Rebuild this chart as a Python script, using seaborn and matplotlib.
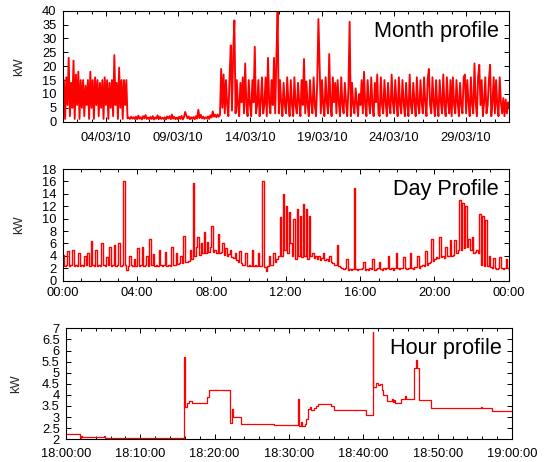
import numpy as np
import pandas as pd
import matplotlib
matplotlib.use("Agg")
import matplotlib.pyplot as plt
import matplotlib.dates as mdates
from matplotlib.ticker import MultipleLocator, FormatStrFormatter
import seaborn as sns

sns.set_style("ticks")
plt.rcParams["font.family"] = ["Liberation Sans", "DejaVu Sans"]

# ---------------- data ----------------
panel_titles = ["Month profile", "Day Profile", "Hour profile"]
y_label = "kW"

# Month profile: 2-hour samples, one row per day (01/03/10 .. 31/03/10)
month_start = "2010-03-01 00:00"
month_step = "2h"
month_kw_by_day = [
    [4, 15, 1, 16, 6, 23, 2, 14, 5, 22, 1, 17],
    [6, 18, 1, 15, 5, 15, 2, 13, 6, 15, 1, 18],
    [5, 15, 1, 16, 6, 15, 2, 14, 5, 15, 1, 16],
    [6, 15, 1, 14, 5, 15, 2, 24, 6, 14, 1, 19.5],
    [5, 15, 1, 15, 6, 15, 1.2, 1.5, 1.0, 1.8, 1.1, 1.6],
    [1.0, 1.8, 0.9, 2.2, 1.1, 1.6, 0.8, 2.0, 1.2, 2.4, 1.0, 1.5],
    [0.9, 1.7, 1.0, 2.0, 0.8, 1.5, 1.1, 2.3, 0.9, 1.8, 1.0, 1.4],
    [1.0, 1.6, 0.8, 1.9, 1.2, 2.0, 0.9, 2.6, 1.1, 1.7, 0.9, 1.5],
    [0.9, 1.8, 1.0, 2.1, 0.8, 1.6, 3.5, 2.2, 1.2, 1.9, 0.9, 1.6],
    [1.0, 1.7, 0.9, 2.0, 1.1, 4.3, 1.3, 2.5, 1.2, 1.8, 1.0, 1.6],
    [1.2, 1.9, 1.0, 2.3, 1.5, 3.7, 1.8, 2.5, 1.6, 2.6, 1.8, 2.4],
    [19, 5, 17, 3, 15, 6, 2, 16, 27.5, 4, 24.5, 36.5],
    [3, 15, 6, 2, 14, 7, 16, 3, 21, 6, 2, 15],
    [6, 2, 15, 7, 27, 3, 6, 15, 2, 7, 16, 3],
    [6, 16, 2, 23, 7, 3, 15, 6, 23, 3, 22.8, 39.5],
    [3, 15, 7, 2, 14, 6, 3, 16, 7, 2, 15, 6],
    [2, 16, 6, 3, 14, 7, 2, 15, 6, 22.6, 3, 14.5],
    [6, 2, 15, 7, 3, 16, 6, 2, 14, 37, 20, 3],
    [15, 6, 2, 16, 7, 3, 24.4, 6, 2, 16, 7, 14],
    [3, 15, 7, 2, 16, 6, 3, 14, 7, 2, 12, 36],
    [2, 14, 6, 3, 12, 7, 2, 10, 6, 15, 3, 18],
    [6, 2, 15, 7, 3, 16, 6, 2, 14, 7, 17, 3],
    [2, 16, 6, 3, 15, 7, 2, 14, 6, 3, 17, 7],
    [3, 15, 7, 2, 16, 6, 3, 15, 7, 2, 14, 6],
    [2, 17, 6, 3, 14, 7, 2, 16, 6, 3, 15, 7],
    [3, 16, 7, 2, 15, 19, 6, 3, 16, 7, 2, 15],
    [6, 2, 15, 7, 3, 17, 6, 2, 16, 7, 3, 15],
    [2, 16, 6, 3, 15, 7, 2, 14, 6, 3, 16, 17],
    [3, 15, 7, 2, 16, 6, 3, 21, 7, 2, 16, 20.5],
    [6, 15, 2, 7, 16, 3, 6, 15, 20.5, 2, 7, 16],
    [3, 15, 6, 2, 16, 7, 3, 8.5, 2, 8, 3, 7],
]
month_last_kw = 5.0
month_xlim = ["2010-03-01 00:00", "2010-04-01 00:00"]

# Day profile: 5-minute samples, one row per hour
day_start = "2010-03-20 00:00"
day_step = "5min"
day_kw_by_hour = [
    [4.2, 2.4, 2.5, 4.8, 2.4, 2.5, 5.0, 2.4, 2.5, 2.4, 4.5, 2.4],
    [2.5, 2.4, 4.0, 2.5, 4.5, 2.4, 6.4, 2.5, 2.4, 5.0, 2.4, 2.5],
    [2.4, 6.0, 2.5, 2.4, 3.8, 2.5, 5.5, 2.4, 2.5, 5.7, 2.4, 2.5],
    [6.0, 2.4, 2.5, 16.0, 2.6, 1.8, 2.4, 4.0, 2.5, 2.4, 3.5, 2.4],
    [5.3, 2.4, 2.5, 5.4, 2.4, 2.5, 4.0, 2.4, 6.7, 2.5, 4.3, 2.4],
    [2.5, 2.4, 5.0, 2.5, 2.4, 2.5, 4.7, 2.4, 2.5, 2.4, 5.5, 2.5],
    [2.6, 4.5, 2.7, 2.8, 3.9, 2.8, 7.2, 3.0, 3.0, 3.2, 5.0, 3.5],
    [15.7, 4.0, 5.5, 7.0, 4.2, 6.0, 4.4, 7.8, 4.5, 6.2, 4.6, 5.5],
    [8.8, 4.6, 5.0, 4.5, 7.5, 4.4, 4.6, 6.0, 4.2, 5.3, 4.0, 4.3],
    [5.0, 3.8, 3.6, 4.5, 3.4, 3.0, 4.8, 2.8, 2.6, 2.5, 4.5, 2.4],
    [2.5, 2.4, 5.0, 2.4, 2.5, 2.4, 4.5, 2.4, 2.3, 16.0, 2.2, 1.6],
    [2.4, 4.0, 2.5, 2.6, 4.5, 3.0, 3.5, 4.0, 10.2, 4.0, 14.0, 5.0],
    [12.0, 4.5, 11.0, 6.0, 4.0, 10.0, 3.5, 11.5, 4.0, 10.5, 3.8, 12.4],
    [4.0, 11.5, 3.5, 10.5, 4.0, 4.5, 3.6, 4.0, 3.5, 4.0, 3.4, 3.6],
    [4.5, 3.4, 3.5, 3.2, 4.0, 3.0, 2.8, 2.6, 2.5, 5.8, 2.4, 2.2],
    [2.0, 1.9, 2.0, 3.5, 1.8, 1.9, 1.8, 1.9, 15.0, 1.9, 1.8, 1.9],
    [1.9, 2.0, 3.0, 1.8, 1.9, 1.8, 2.0, 1.9, 3.5, 1.8, 1.9, 2.0],
    [3.0, 1.9, 1.8, 2.0, 1.9, 2.0, 4.0, 1.9, 2.0, 1.8, 2.0, 4.5],
    [2.0, 1.9, 2.0, 2.0, 3.8, 2.0, 1.9, 2.0, 4.5, 2.0, 1.9, 2.2],
    [2.2, 4.0, 2.1, 2.3, 2.5, 2.4, 4.8, 2.6, 2.8, 3.0, 6.8, 3.2],
    [3.5, 3.8, 3.6, 7.0, 3.8, 4.0, 3.7, 5.5, 3.9, 4.0, 6.5, 4.0],
    [4.2, 6.5, 4.5, 5.0, 13.0, 5.0, 12.5, 5.2, 12.0, 5.5, 6.8, 5.0],
    [7.0, 4.5, 4.6, 5.0, 4.4, 10.8, 2.5, 10.4, 2.3, 9.8, 2.4, 4.0],
    [2.2, 2.0, 3.7, 2.0, 1.9, 2.0, 3.8, 2.0, 1.9, 2.0, 3.5, 2.0],
]
day_last_kw = 1.6
day_xlim = ["2010-03-20 00:00", "2010-03-21 00:00"]

# Hour profile: change points (minutes after 18:00) and values
hour_start = "2010-03-20 18:00"
hour_minutes = [0, 1.9, 2.05, 2.2, 5.1, 5.3, 10.0, 15.85, 15.95, 16.3, 16.6, 17.0,
                19.0, 19.3, 22.1, 22.35, 22.5, 23.6, 28.0, 31.2, 31.3, 31.6, 31.7,
                32.1, 32.3, 32.6, 32.8, 33.0, 33.3, 33.6, 33.85, 35.7, 36.05, 40.4,
                41.25, 41.35, 41.7, 42.0, 42.2, 42.5, 42.7, 43.2, 43.8, 43.95, 44.1,
                44.25, 45.1, 45.6, 45.75, 46.75, 47.05, 47.2, 47.55, 49.15, 55.8,
                56.0, 57.3, 60.0]
hour_kw = [2.25, 2.0, 2.15, 2.09, 2.13, 2.08, 2.07, 5.7, 3.45, 3.62, 3.72, 3.63,
           3.9, 4.22, 2.75, 3.35, 3.02, 2.7, 2.66, 3.8, 2.62, 2.8, 2.62,
           2.7, 2.9, 3.35, 3.45, 3.3, 3.4, 3.48, 3.6, 3.48, 3.32, 3.1,
           6.85, 4.35, 4.55, 4.45, 4.5, 4.2, 4.0, 3.72, 3.8, 3.66, 3.78,
           3.65, 3.82, 3.95, 3.8, 5.2, 5.55, 5.2, 3.78, 3.42, 3.44,
           3.4, 3.28, 3.28]
hour_xlim = ["2010-03-20 18:00", "2010-03-20 19:00"]

# ---------------- frames ----------------
month_vals = [v for row in month_kw_by_day for v in row] + [month_last_kw]
month_df = pd.DataFrame({
    "time": pd.date_range(month_start, periods=len(month_vals), freq=month_step),
    "kW": month_vals})

day_vals = [v for row in day_kw_by_hour for v in row] + [day_last_kw]
day_df = pd.DataFrame({
    "time": pd.date_range(day_start, periods=len(day_vals), freq=day_step),
    "kW": day_vals})

hour_df = pd.DataFrame({
    "time": pd.Timestamp(hour_start) + pd.to_timedelta(hour_minutes, unit="min"),
    "kW": hour_kw})

# ---------------- figure ----------------
W, H = 548, 462
fig = plt.figure(figsize=(W / 100, H / 100), dpi=100)
fig.patch.set_facecolor("white")

# left, right, top, bottom in pixels
boxes = [(62.7, 509.3, 10.7, 121.7), (62.7, 508.7, 169.0, 280.7), (66.0, 512.0, 328.3, 439.3)]
label_x_px = [19.0, 19.0, 16.0]
xpads = [7.5, 4.5, 6.5]

axes = []
for (l, r, t, b) in boxes:
    ax = fig.add_axes([l / W, (H - b) / H, (r - l) / W, (b - t) / H])
    axes.append(ax)

red = "#ff0000"
sns.lineplot(data=month_df, x="time", y="kW", ax=axes[0], color=red,
             linewidth=1.35, estimator=None)
sns.lineplot(data=day_df, x="time", y="kW", ax=axes[1], color=red,
             linewidth=1.0, estimator=None, drawstyle="steps-post")
sns.lineplot(data=hour_df, x="time", y="kW", ax=axes[2], color=red,
             linewidth=0.9, estimator=None, drawstyle="steps-post")

# x axes
ax = axes[0]
ax.set_xlim(pd.Timestamp(month_xlim[0]), pd.Timestamp(month_xlim[1]))
ax.xaxis.set_major_locator(mdates.DayLocator(bymonthday=[4, 9, 14, 19, 24, 29]))
ax.xaxis.set_minor_locator(mdates.DayLocator())
ax.xaxis.set_major_formatter(mdates.DateFormatter("%d/%m/%y"))
ax.set_ylim(0, 40)
ax.yaxis.set_major_locator(MultipleLocator(5))

ax = axes[1]
ax.set_xlim(pd.Timestamp(day_xlim[0]), pd.Timestamp(day_xlim[1]))
ax.xaxis.set_major_locator(mdates.HourLocator(byhour=range(0, 24, 4)))
ax.xaxis.set_minor_locator(mdates.HourLocator())
ax.xaxis.set_major_formatter(mdates.DateFormatter("%H:%M"))
ax.set_ylim(0, 18)
ax.yaxis.set_major_locator(MultipleLocator(2))

ax = axes[2]
ax.set_xlim(pd.Timestamp(hour_xlim[0]), pd.Timestamp(hour_xlim[1]))
ax.xaxis.set_major_locator(mdates.MinuteLocator(byminute=range(0, 60, 10)))
ax.xaxis.set_minor_locator(mdates.MinuteLocator(byminute=range(0, 60, 2)))
ax.xaxis.set_major_formatter(mdates.DateFormatter("%H:%M:%S"))
ax.set_ylim(2, 7)
ax.yaxis.set_major_locator(MultipleLocator(0.5))
ax.yaxis.set_major_formatter(FormatStrFormatter("%g"))

for i, ax in enumerate(axes):
    l, r, t, b = boxes[i]
    ax.set_xlabel("")
    ax.set_ylabel(y_label, fontsize=9.3)
    ax.yaxis.label.set_va("center")
    ax.yaxis.set_label_coords((label_x_px[i] - l) / (r - l), 0.5)
    for sp in ax.spines.values():
        sp.set_visible(True)
        sp.set_color("black")
        sp.set_linewidth(0.8)
    ax.tick_params(axis="both", which="both", direction="in", top=True, right=True,
                   labelsize=9.3, width=0.7, color="black", labelcolor="black")
    ax.tick_params(axis="both", which="major", length=3.5)
    ax.tick_params(axis="both", which="minor", length=2.0)
    ax.tick_params(axis="x", which="major", pad=xpads[i])
    ax.tick_params(axis="y", which="major", pad=4.5)
    ax.set_facecolor("white")
    ax.grid(False)
    ax.annotate(panel_titles[i], xy=(1, 1), xycoords="axes fraction",
                xytext=(-10, -26), textcoords="offset pixels",
                ha="right", va="baseline", fontsize=15.6, color="black")

fig.savefig("out.png", dpi=100, facecolor="white")
